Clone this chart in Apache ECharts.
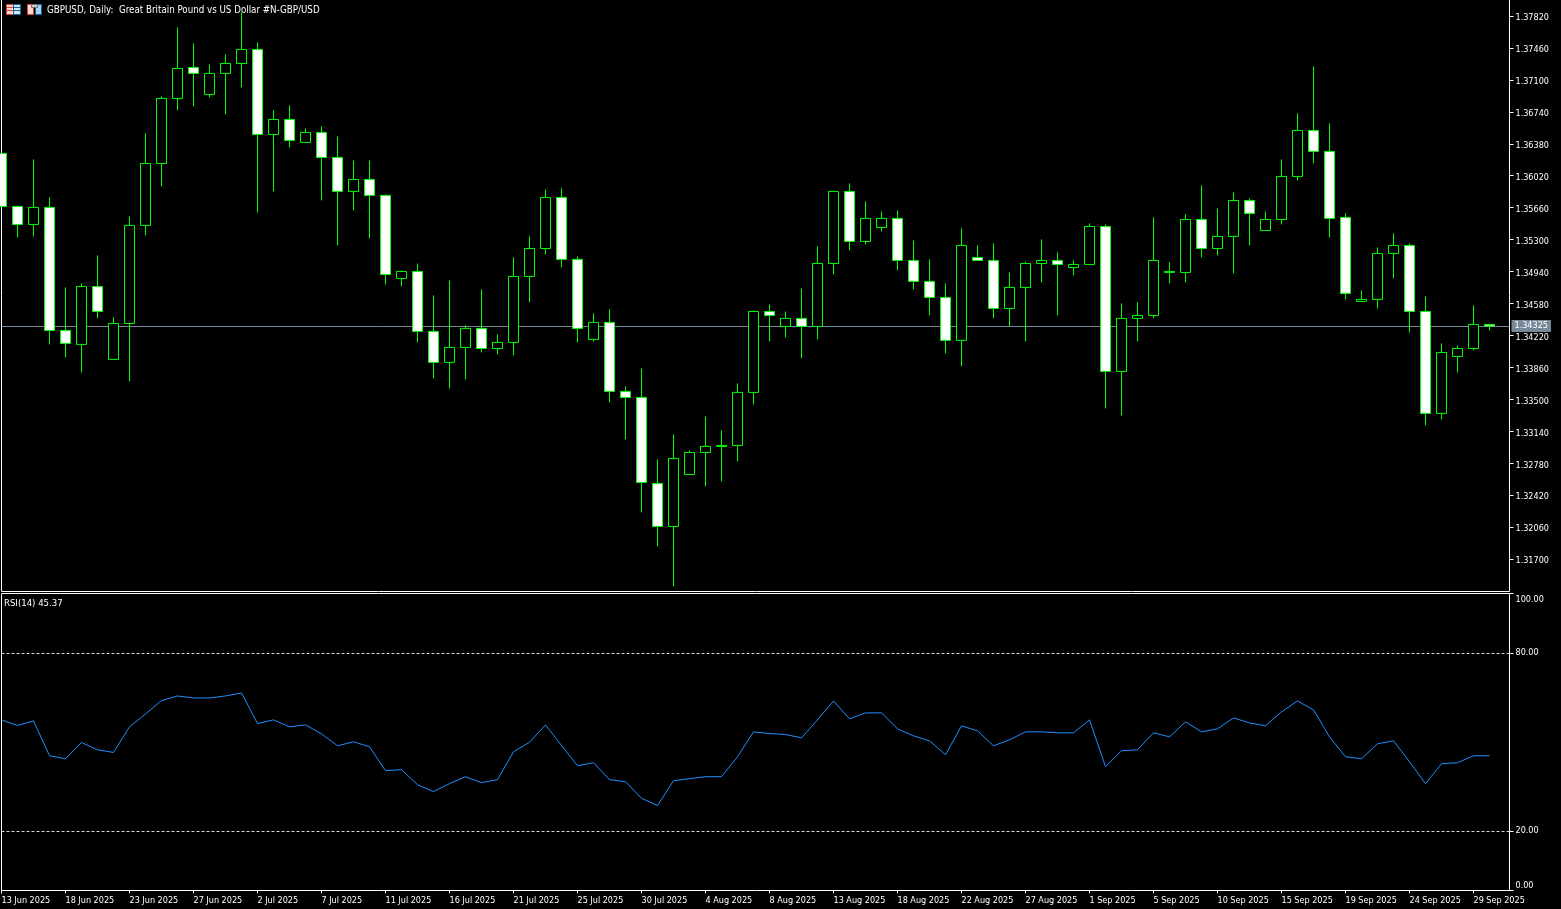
<!DOCTYPE html>
<html><head><meta charset="utf-8">
<style>html,body{margin:0;padding:0;background:#000}#c{width:1561px;height:909px}</style>
<script src="https://cdn.jsdelivr.net/npm/echarts@6/dist/echarts.min.js"></script>
</head><body><div id="c"></div>
<script>
const tickLabels=['13 Jun 2025','18 Jun 2025','23 Jun 2025','27 Jun 2025','2 Jul 2025','7 Jul 2025','11 Jul 2025','16 Jul 2025','21 Jul 2025','25 Jul 2025','30 Jul 2025','4 Aug 2025','8 Aug 2025','13 Aug 2025','18 Aug 2025','22 Aug 2025','27 Aug 2025','1 Sep 2025','5 Sep 2025','10 Sep 2025','15 Sep 2025','19 Sep 2025','24 Sep 2025','29 Sep 2025'];
const priceTicks=[1.3170,1.3206,1.3242,1.3278,1.3314,1.3350,1.3386,1.3422,1.3458,1.3494,1.3530,1.3566,1.3602,1.3638,1.3674,1.3710,1.3746,1.3782];
const rsiTicks=[0,20,80,100];
const rsiLevels=[20,80];
const lastPrice=1.34325;
const opens=[1.36271,1.35674,1.35471,1.35663,1.34276,1.34119,1.34772,1.33950,1.34355,1.35460,1.36158,1.36891,1.37240,1.36936,1.37173,1.37285,1.37443,1.36485,1.36654,1.36395,1.36508,1.36226,1.35843,1.35978,1.35798,1.34862,1.34941,1.34265,1.33916,1.34085,1.34299,1.34073,1.34141,1.34885,1.35200,1.35775,1.35077,1.34175,1.34367,1.33589,1.33521,1.32552,1.32067,1.32653,1.32901,1.32969,1.32980,1.33578,1.34490,1.34321,1.34412,1.34321,1.35031,1.35843,1.35279,1.35437,1.35539,1.35065,1.34829,1.34648,1.34164,1.35099,1.35065,1.34524,1.34761,1.35031,1.35065,1.34986,1.35020,1.35448,1.33814,1.34412,1.34445,1.34930,1.34930,1.35527,1.35200,1.35336,1.35741,1.35403,1.35527,1.36012,1.36530,1.36294,1.35550,1.34603,1.34626,1.35144,1.35234,1.34490,1.33341,1.33983,1.34073,1.34344];
const closes=[1.35674,1.35471,1.35663,1.34276,1.34130,1.34772,1.34490,1.34355,1.35460,1.36158,1.36891,1.37229,1.37173,1.37173,1.37285,1.37443,1.36485,1.36654,1.36418,1.36508,1.36226,1.35843,1.35978,1.35798,1.34907,1.34941,1.34265,1.33916,1.34085,1.34299,1.34073,1.34141,1.34885,1.35200,1.35775,1.35077,1.34299,1.34367,1.33589,1.33521,1.32563,1.32067,1.32834,1.32901,1.32969,1.32980,1.33578,1.34490,1.34445,1.34412,1.34321,1.35031,1.35843,1.35279,1.35539,1.35539,1.35065,1.34829,1.34648,1.34164,1.35234,1.35065,1.34524,1.34761,1.35031,1.35065,1.35020,1.35020,1.35448,1.33814,1.34412,1.34445,1.35065,1.34941,1.35527,1.35200,1.35336,1.35741,1.35595,1.35527,1.36012,1.36530,1.36294,1.35539,1.34693,1.34626,1.35144,1.35234,1.34490,1.33341,1.34028,1.34073,1.34344,1.34325];
const highs=[1.36271,1.35674,1.36204,1.35775,1.34761,1.34806,1.35122,1.34423,1.35561,1.36497,1.36914,1.37691,1.37511,1.37274,1.37387,1.37860,1.37522,1.36756,1.36812,1.36553,1.36575,1.36463,1.36192,1.36192,1.35809,1.34953,1.35031,1.34671,1.34840,1.34333,1.34738,1.34231,1.35099,1.35336,1.35865,1.35877,1.35110,1.34468,1.34513,1.33645,1.33848,1.32823,1.33104,1.32924,1.33307,1.33149,1.33679,1.34502,1.34569,1.34490,1.34750,1.35223,1.35843,1.35933,1.35730,1.35617,1.35629,1.35291,1.35077,1.34806,1.35426,1.35234,1.35257,1.34930,1.35054,1.35302,1.35155,1.35065,1.35482,1.35471,1.34581,1.34592,1.35550,1.35043,1.35584,1.35911,1.35651,1.35832,1.35764,1.35617,1.36204,1.36722,1.37252,1.36609,1.35595,1.34727,1.35212,1.35370,1.35257,1.34660,1.34130,1.34107,1.34558,1.34344];
const lows=[1.35674,1.35324,1.35336,1.34119,1.33972,1.33803,1.34412,1.33950,1.33702,1.35347,1.35899,1.36756,1.36801,1.36902,1.36711,1.37015,1.35606,1.35843,1.36339,1.36395,1.35741,1.35234,1.35629,1.35313,1.34795,1.34772,1.34141,1.33735,1.33623,1.33724,1.34028,1.34006,1.33995,1.34592,1.35133,1.34986,1.34141,1.34152,1.33465,1.33048,1.32225,1.31842,1.31391,1.32653,1.32518,1.32575,1.32800,1.33442,1.34152,1.34197,1.33961,1.34175,1.34907,1.35178,1.35246,1.35392,1.34953,1.34738,1.34445,1.34017,1.33871,1.35065,1.34412,1.34321,1.34152,1.34817,1.34445,1.34896,1.35020,1.33397,1.33318,1.34152,1.34412,1.34806,1.34817,1.35099,1.35122,1.34919,1.35234,1.35403,1.35471,1.35967,1.36158,1.35324,1.34626,1.34603,1.34524,1.34862,1.34254,1.33206,1.33273,1.33803,1.34051,1.34276];
const rsi=[57.45,55.54,57.11,45.37,44.36,49.83,47.38,46.48,55.10,59.46,63.93,65.50,64.83,64.83,65.50,66.51,56.21,57.45,55.10,55.77,52.75,48.72,50.07,48.39,40.34,40.67,35.64,33.29,35.97,38.32,36.31,37.32,46.71,49.93,55.77,48.83,42.01,43.02,37.32,36.64,31.04,28.59,36.98,37.65,38.32,38.32,45.03,53.42,52.85,52.52,51.41,57.45,63.83,57.79,59.80,59.80,54.43,52.08,50.40,45.70,55.44,53.76,48.72,50.74,53.42,53.42,53.09,53.09,57.45,41.68,47.05,47.38,53.09,51.74,56.78,53.42,54.43,58.12,56.44,55.44,60.13,63.83,60.81,51.74,45.03,44.36,49.40,50.40,43.36,35.97,42.68,43.02,45.37,45.37];

const FONT='"DejaVu Sans Condensed","DejaVu Sans",sans-serif';
const FS=9;
const candleData=opens.map((o,i)=>[i,o,closes[i],lows[i],highs[i]]);
const rsiData=rsi.map((v,i)=>[i,v]);
const xTicks=tickLabels.map((_,i)=>i*4);
const X_MIN=0, X_MAX=94.25;
const GREEN='#00ff00';
const chart=echarts.init(document.getElementById('c'),null,{renderer:'canvas',devicePixelRatio:1});
const xCommon={type:'value',min:X_MIN,max:X_MAX,splitLine:{show:false}};
chart.setOption({
  animation:false,backgroundColor:'#000',
  title:[
    {text:'GBPUSD, Daily:  Great Britain Pound vs US Dollar #N-GBP/USD',left:47,top:5,padding:0,textStyle:{color:'#fff',fontSize:9.7,fontWeight:'normal',fontFamily:FONT}},
    {text:'RSI(14) 45.37',left:4,top:599,padding:0,textStyle:{color:'#fff',fontSize:9.5,fontWeight:'normal',fontFamily:FONT}}
  ],
  grid:[
    {left:1.5,top:-0.5,width:1508,height:592,show:true,borderColor:'#fff',borderWidth:1,backgroundColor:'#000',outerBoundsMode:'none',containLabel:false},
    {left:1.5,top:593.5,width:1508,height:297,show:true,borderColor:'#fff',borderWidth:1,backgroundColor:'#000',outerBoundsMode:'none',containLabel:false}
  ],
  xAxis:[
    Object.assign({},xCommon,{gridIndex:0,show:false,axisLine:{onZero:false}}),
    Object.assign({},xCommon,{gridIndex:1,position:'bottom',
      axisLine:{show:false,onZero:false},
      axisTick:{show:true,length:3,lineStyle:{color:'#fff'},customValues:xTicks},
      axisLabel:{show:true,customValues:xTicks,color:'#fff',fontSize:FS,fontFamily:FONT,align:'left',margin:4,padding:[2,0,0,0],hideOverlap:false,
        formatter:v=>tickLabels[Math.round(v/4)]}})
  ],
  yAxis:[
    {type:'value',gridIndex:0,position:'right',min:1.31334,max:1.38006,splitLine:{show:false},axisLine:{show:false,onZero:false},
      axisTick:{show:true,length:4,lineStyle:{color:'#fff'},customValues:priceTicks},
      axisLabel:{show:true,customValues:priceTicks,color:'#fff',fontSize:FS,fontFamily:FONT,margin:6,verticalAlign:'top',lineHeight:4,formatter:v=>v.toFixed(5)}},
    {type:'value',gridIndex:1,position:'right',min:0,max:100,splitLine:{show:false},axisLine:{show:false,onZero:false},
      axisTick:{show:true,length:4,lineStyle:{color:'#fff'},customValues:rsiTicks},
      axisLabel:{show:true,customValues:rsiTicks,color:'#fff',fontSize:FS,fontFamily:FONT,margin:6,padding:[2,0,0,0],verticalAlignMinLabel:'bottom',verticalAlignMaxLabel:'top',formatter:v=>v.toFixed(2)}}
  ],
  series:[
    {type:'candlestick',xAxisIndex:0,yAxisIndex:0,barWidth:10,clip:true,data:candleData,silent:true,
      encode:{x:0,y:[1,2,3,4]},
      itemStyle:{color:'#000',color0:'#fff',borderColor:GREEN,borderColor0:GREEN,borderColorDoji:GREEN,borderWidth:1},
      markLine:{silent:true,z:1,symbol:'none',animation:false,precision:5,
        lineStyle:{color:'#778899',width:1,type:'solid'},
        label:{show:true,position:'end',distance:2,formatter:()=>lastPrice.toFixed(5),color:'#fff',backgroundColor:'#778899',padding:[2,3,1,3],fontSize:FS,fontFamily:FONT},
        data:[{yAxis:lastPrice}]}
    },
    {type:'line',xAxisIndex:1,yAxisIndex:1,data:rsiData,symbol:'none',silent:true,
      lineStyle:{color:'#1e90ff',width:1},
      markLine:{silent:true,symbol:'none',animation:false,label:{show:false},
        lineStyle:{color:'#d8d8d8',width:1,type:[3,2]},
        data:rsiLevels.map(v=>({yAxis:v}))}
    }
  ],
  graphic:[
    {type:'group',left:6,top:4,silent:true,children:[
      {type:'rect',shape:{x:0.5,y:0.5,width:7,height:10},style:{fill:'#ffd8d0',stroke:'#e04030',lineWidth:1}},
      {type:'rect',shape:{x:7.5,y:0.5,width:7,height:10},style:{fill:'#cfe6f8',stroke:'#1060a0',lineWidth:1}},
      {type:'rect',shape:{x:1,y:3,width:6,height:1},style:{fill:'#e04030'}},
      {type:'rect',shape:{x:1,y:6,width:6,height:1},style:{fill:'#e04030'}},
      {type:'rect',shape:{x:8,y:3,width:6,height:1},style:{fill:'#1060a0'}},
      {type:'rect',shape:{x:8,y:6,width:6,height:1},style:{fill:'#1060a0'}}
    ]},
    {type:'group',left:27,top:4,silent:true,children:[
      {type:'rect',shape:{x:0.5,y:0.5,width:6,height:10},style:{fill:'#ffd8d0',stroke:'#e04030',lineWidth:1}},
      {type:'rect',shape:{x:8.5,y:0.5,width:6,height:10},style:{fill:'#a8d4f4',stroke:'#1060a0',lineWidth:1}},
      {type:'rect',shape:{x:4.5,y:0.5,width:6,height:3},style:{fill:'#c8c8c8',stroke:'#707070',lineWidth:1}}
    ]}
  ]
});
</script></body></html>
